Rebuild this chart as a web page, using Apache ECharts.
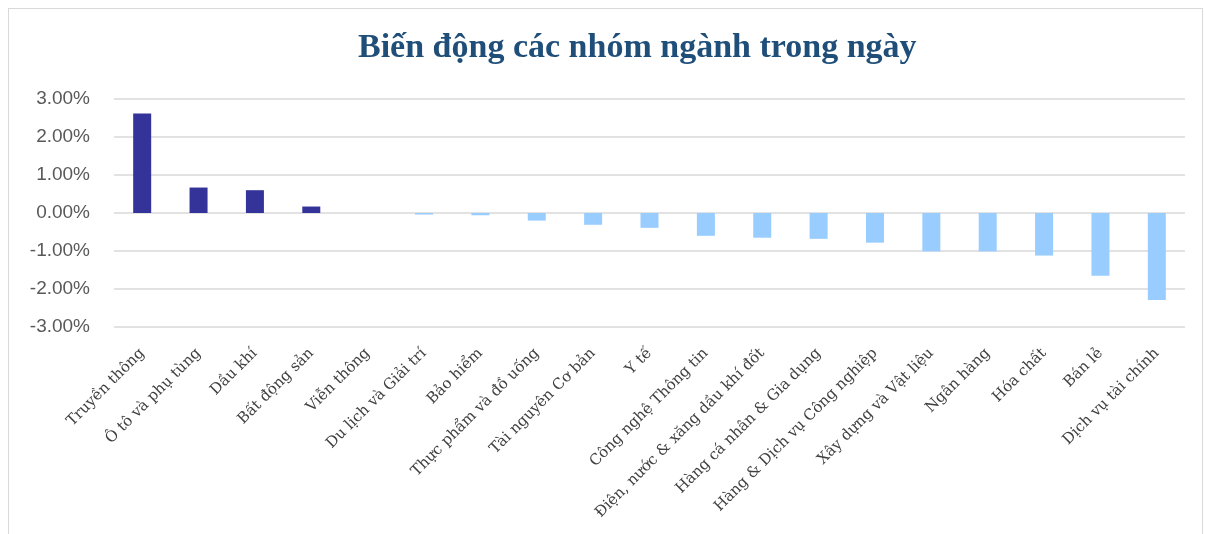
<!DOCTYPE html>
<html>
<head>
<meta charset="utf-8">
<script src="https://cdn.jsdelivr.net/npm/echarts@6/dist/echarts.min.js"></script>
<style>
    html, body { margin: 0; padding: 0; background: #fff; }
    .Frame {
        position: absolute; left: 8px; top: 8px; width: 1195px; height: 540px;
        border: 1px solid #d9d9d9; box-sizing: border-box;
    }
    #chart { position: absolute; left: 0; top: 0; width: 1205px; height: 534px; }
</style>
</head>
<body>
<div class="Frame"></div>
<div id="chart"></div>
<script>
// sectors, sorted by daily change
const sectors = [
    'Truyền thông', 'Ô tô và phụ tùng', 'Dầu khí', 'Bất động sản', 'Viễn thông',
    'Du lịch và Giải trí', 'Bảo hiểm', 'Thực phẩm và đồ uống', 'Tài nguyên Cơ bản', 'Y tế',
    'Công nghệ Thông tin', 'Điện, nước & xăng dầu khí đốt', 'Hàng cá nhân & Gia dụng',
    'Hàng & Dịch vụ Công nghiệp', 'Xây dựng và Vật liệu', 'Ngân hàng', 'Hóa chất',
    'Bán lẻ', 'Dịch vụ tài chính'
];
// % change in the day
const changes = [
    2.62, 0.67, 0.60, 0.17, 0.00,
    -0.04, -0.06, -0.20, -0.31, -0.39,
    -0.60, -0.65, -0.68, -0.78, -1.01,
    -1.01, -1.12, -1.65, -2.29
];
const yTicks = { min: -3, max: 3, step: 1 };

const chart = echarts.init(document.getElementById('chart'));
chart.setOption({
    animation: false,
    title: {
        text: 'Biến động các nhóm ngành trong ngày',
        left: 353,
        top: 26,
        textStyle: {
            fontFamily: 'Liberation Serif',
            fontWeight: 'bold',
            fontSize: 34,
            color: '#1f4e79'
        }
    },
    grid: { left: 114, right: 20, top: 99, bottom: 207, containLabel: false },
    xAxis: {
        type: 'category',
        data: sectors,
        position: 'bottom',
        axisLine: { show: false },
        axisTick: { show: false },
        axisLabel: {
            rotate: 45,
            interval: 0,
            margin: 24,
            fontFamily: 'DejaVu Serif',
            fontSize: 15,
            color: '#404040'
        }
    },
    yAxis: {
        type: 'value',
        min: yTicks.min,
        max: yTicks.max,
        interval: yTicks.step,
        axisLine: { show: false },
        axisTick: { show: false },
        splitLine: { lineStyle: { color: '#d9d9d9', width: 1.5 } },
        axisLabel: {
            formatter: (v) => v.toFixed(2) + '%',
            fontFamily: 'Liberation Sans',
            fontSize: 19,
            color: '#595959',
            margin: 24
        }
    },
    series: [{
        type: 'bar',
        barWidth: 18,
        data: changes.map((v) => ({
            value: v,
            itemStyle: { color: v >= 0 ? '#333399' : '#99ccff' }
        }))
    }]
});
</script>
</body>
</html>
